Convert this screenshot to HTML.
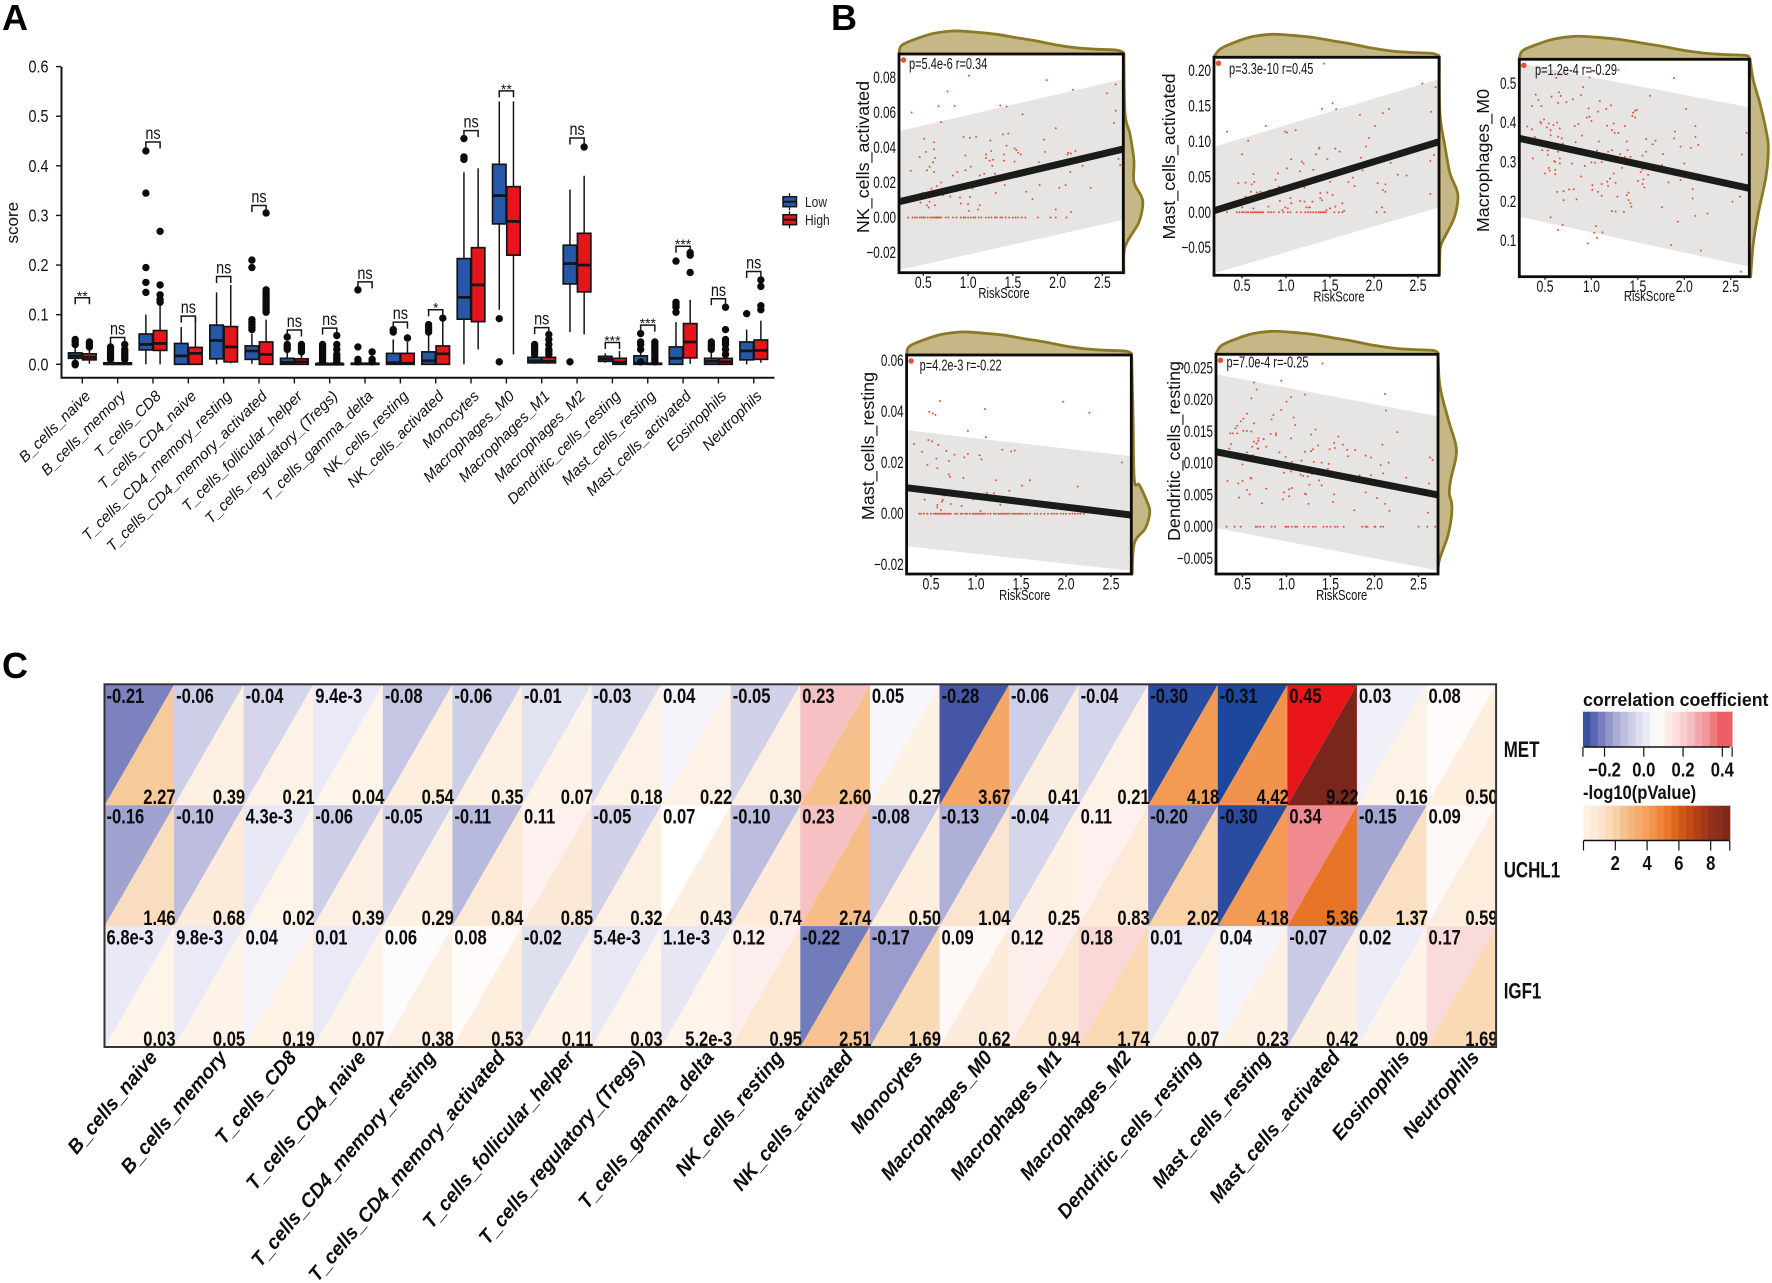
<!DOCTYPE html>
<html lang="en">
<head>
<meta charset="utf-8">
<title>Immune cell infiltration figure</title>
<style>
html,body{margin:0;padding:0;background:#fff;}
svg{display:block;font-family:"Liberation Sans",Arial,sans-serif;filter:blur(0.35px);}
</style>
</head>
<body>
<svg id="fig" xmlns="http://www.w3.org/2000/svg" width="1772" height="1283" viewBox="0 0 1772 1283"></svg>
<script>
/* ---------- shared categories ---------- */
const categories = ["B_cells_naive","B_cells_memory","T_cells_CD8","T_cells_CD4_naive","T_cells_CD4_memory_resting","T_cells_CD4_memory_activated","T_cells_follicular_helper","T_cells_regulatory_(Tregs)","T_cells_gamma_delta","NK_cells_resting","NK_cells_activated","Monocytes","Macrophages_M0","Macrophages_M1","Macrophages_M2","Dendritic_cells_resting","Mast_cells_resting","Mast_cells_activated","Eosinophils","Neutrophils"];

/* ---------- panel A data ---------- */
const scoreTicks = [0,0.1,0.2,0.3,0.4,0.5,0.6];
const lowQ1  = [.012,0,.029,0,.011,.010,0,0,0,0,0,.091,.283,.003,.162,.006,0,0,0,.009];
const lowMed = [.017,.001,.040,.017,.048,.027,.004,.001,.001,.003,.007,.135,.340,.007,.203,.011,.002,.012,.006,.027];
const lowQ3  = [.023,.003,.061,.042,.079,.037,.012,.001,.002,.022,.025,.213,.403,.014,.240,.016,.017,.035,.012,.045];
const lowMin = [.006,0,0,0,0,.001,0,0,0,0,0,0,.110,.001,.065,.003,0,0,0,0];
const lowMax = [.034,.008,.100,.075,.145,.062,.030,.003,.005,.050,.060,.387,.530,.025,.352,.022,.040,.085,.028,.070];
const highQ1 = [.009,0,.028,0,.005,0,0,0,0,0,0,.086,.220,.003,.146,0,0,.013,0,.010];
const highMed= [.014,.001,.042,.022,.035,.020,.005,.001,.001,.002,.021,.160,.288,.006,.200,.004,.001,.045,.005,.028];
const highQ3 = [.021,.003,.068,.034,.076,.045,.011,.001,.002,.022,.037,.235,.358,.014,.264,.012,.002,.082,.012,.049];
const highMin= [.001,0,0,0,.002,0,0,0,0,0,0,.030,.020,.001,.060,0,0,.001,0,.003];
const highMax= [.034,.008,.120,.095,.160,.090,.025,.003,.005,.045,.090,.395,.530,.025,.380,.027,.005,.130,.028,.088];
const lowOutliers = [
 [-.001,.002,.04,.045,.05],[.01,.015,.02,.025,.03,.035],[.145,.165,.195,.345,.43],[],[],
 [.07,.075,.08,.085,.09,.195,.21],[.03,.035,.04,.055],[.005,.01,.015,.02,.025,.03,.035,.04],[.005,.01,.035,.15],[.065,.07],
 [.065,.07,.075,.08],[.413,.418,.455],[.005,.092],[.02,.025,.03,.035,.04],[.005],
 [],[.005,.03,.04,.045,.062],[.105,.115,.12,.125,.208],[.03,.035,.04,.045],[.102]];
const highOutliers = [
 [.035,.04,.045],[.01,.015,.02,.025,.03,.04],[.125,.13,.14,.16,.268],[],[],
 [.105,.11,.115,.12,.125,.13,.135,.14,.145,.15,.305],[.025,.03,.035,.04],[.005,.01,.015,.02,.03,.04,.058],[.005,.01,.025],[.053],
 [.093],[],[],[.02,.025,.03,.04,.05,.06],[.438],
 [],[.005,.01,.015,.02,.025,.03,.035,.04,.045],[.185,.22,.225],[.02,.03,.04,.045,.05,.07,.115],[.11,.118,.157,.17]];
const bracketTop = [.134,.054,.448,.097,.177,.32,.069,.073,.166,.085,.11,.471,.551,.074,.456,.044,.079,.238,.132,.187];
const sigLabels = ["**","ns","ns","ns","ns","ns","ns","ns","ns","ns","*","ns","**","ns","ns","***","***","***","ns","ns"];

/* ---------- panel B data ---------- */
const riskTicks = [0.5,1.0,1.5,2.0,2.5];
const topDensityRisk = [.24,.26,.43,.61,.83,1.05,1.31,1.54,1.76,1.99,2.21,2.43,2.66,2.72];
const topDensityValue = [.03,.38,.67,.89,1,.96,.86,.71,.57,.39,.27,.21,.17,.07];

const nkPoints = [[1.01,.081],[1.88,.0785],[.77,.072],[.37,.06],[.67,.0636],[.85,.0638],[.7,.0545],[1.36,.064],[1.43,.0634],[2.17,.073],[2.55,.071],[2.65,.076],[2.65,.061],[2.63,.054],[1.61,.059],[.51,.045],[.62,.043],[.95,.046],[1.02,.0455],[1.09,.046],[1.39,.0475],[1.45,.048],[1.98,.051],[1.85,.0445],[1.25,.044],[1.43,.041],[.62,.039],[.53,.0375],[.46,.0345],[.63,.034],[.36,.0267],[.54,.027],[.57,.029],[.61,.0316],[.62,.026],[.97,.0354],[1.03,.029],[.97,.027],[.88,.026],[.83,.024],[1.2,.036],[1.26,.038],[1.2,.034],[1.24,.0324],[1.28,.033],[1.27,.0295],[1.4,.036],[1.4,.0324],[1.52,.0394],[1.54,.0385],[1.56,.037],[1.59,.036],[1.52,.032],[1.79,.0316],[1.86,.0375],[1.92,.031],[2.11,.036],[2.12,.037],[2.15,.0366],[2.2,.038],[2.28,.0295],[2.14,.026],[2.68,.0335],[2.7,.03],[1.13,.024],[1.18,.025],[1.3,.025],[.7,.02],[.65,.018],[.59,.0166],[.49,.014],[.47,.0085],[.57,.009],[.54,.007],[.56,.0057],[.63,.007],[.72,.0128],[.8,.012],[.91,.0114],[.92,.008],[1.0,.0076],[1.01,.0038],[1.13,.007],[1.11,.0046],[1.05,.0166],[1.02,.0118],[1.41,.0185],[1.31,.014],[1.65,.0147],[1.72,.0105],[1.8,.0185],[2.02,.017],[2.09,.0185],[2.37,.017],[1.98,.0046],[2.15,.0032],[2.73,.0594],[1.95,.0935]];
const nkZeros = [.23,.33,.38,.41,.43,.46,.48,.5,.52,.55,.58,.6,.62,.64,.65,.66,.67,.68,.7,.75,.78,.83,.87,.92,.95,.97,1.0,1.03,1.06,1.08,1.12,1.15,1.2,1.23,1.26,1.3,1.32,1.36,1.38,1.42,1.46,1.5,1.53,1.56,1.6,1.64,1.78,1.92,1.98,2.1];
const nkRightY = [.0937,.0594,.048,.0328,.0204,.0118,.0061,-.0034,-.0168,-.0316];
const nkRightD = [.03,.09,.34,.55,.55,.95,1,.78,.09,.03];
const nkFit = [.009,.0391];
const nkUpper = [.0494,.0791];
const nkLower = [-.03,-.0014];
const nkYTicks = [-.02,0,.02,.04,.06,.08];

const mastActPoints = [[.33,.114],[.57,.101],[.5,.082],[.77,.122],[.99,.114],[1.01,.1125],[1.11,.116],[1.41,.146],[1.43,.21],[1.375,.09],[1.34,.082],[.46,.041],[.54,.042],[.64,.043],[.61,.0395],[.63,.054],[.6,.029],[.54,.022],[.61,.02],[.67,.028],[.71,.029],[.81,.031],[.88,.046],[.91,.055],[1.01,.062],[1.06,.075],[1.18,.0716],[1.2,.069],[1.16,.058],[1.31,.06],[1.21,.035],[.92,.036],[.93,.016],[.99,.007],[1.05,.02],[1.06,.0127],[1.16,.016],[1.21,.015],[1.26,.007],[.96,.003],[1.02,.0056],[1.39,.027],[1.41,.017],[1.5,.0056],[.8,.008],[.5,.007],[.63,.0056],[2.55,.182],[2.7,.1766],[1.53,.154],[1.57,.1455],[1.84,.1375],[2.1,.14],[2.17,.146],[2.01,.122],[1.94,.105],[1.91,.093],[1.38,.0913],[1.56,.09],[1.61,.0857],[1.47,.075],[1.85,.077],[1.87,.059],[2.19,.07],[2.68,.081],[2.64,.0725],[2.65,.142],[2.73,.1375],[2.27,.053],[2.37,.052],[1.71,.043],[1.76,.049],[1.78,.037],[1.5,.043],[2.04,.041],[2.13,.0395],[2.1,.0315],[2.13,.029],[2.64,.026],[1.47,.028],[1.53,.0245],[1.3,.015],[1.39,.02],[1.64,.0127],[1.56,.008],[1.46,.003],[1.66,.002],[2.09,.007],[1.23,.007],[1.27,.007],[1.57,.219],[1.91,.22]];
const mastActZeros = [.19,.33,.44,.47,.5,.52,.55,.57,.6,.62,.64,.66,.68,.7,.72,.74,.8,.83,.86,.92,.97,1.02,1.05,1.12,1.17,1.22,1.25,1.28,1.31,1.34,1.37,1.39,1.41,1.43,1.45,1.55,1.6,1.64,2.03,2.12];
const mastActRightY = [.219,.1398,.0927,.055,.0315,.0149,-.0107,-.0437,-.0579,-.0889];
const mastActRightD = [.02,.05,.32,.59,.95,1,.77,.14,.05,.02];
const mastActFit = [.0023,.0997];
const mastActUpper = [.0927,.1883];
const mastActLower = [-.0862,.0071];
const mastActYTicks = [-.05,0,.05,.1,.15,.2];

const m0Points = [[.62,.514],[.91,.49],[.98,.515],[1.0,.532],[1.29,.534],[1.89,.513],[.4,.471],[.43,.457],[.36,.442],[.46,.442],[.57,.466],[.65,.477],[.67,.468],[.64,.45],[.73,.452],[.8,.459],[.89,.47],[1.09,.455],[1.21,.444],[.97,.436],[.95,.413],[.98,.415],[1.0,.404],[1.07,.428],[1.16,.435],[1.63,.468],[2.02,.435],[1.45,.425],[1.47,.43],[1.49,.432],[1.44,.417],[1.47,.413],[.45,.402],[.46,.398],[.49,.408],[.54,.398],[.59,.394],[.63,.4],[.31,.39],[.36,.383],[.52,.388],[.56,.381],[.66,.385],[.82,.391],[.86,.396],[1.17,.392],[1.24,.398],[1.22,.381],[1.25,.374],[1.29,.374],[1.36,.391],[1.9,.377],[2.12,.391],[1.89,.36],[2.12,.364],[2.15,.343],[2.07,.336],[1.96,.339],[2.67,.374],[.39,.363],[.56,.368],[.64,.364],[.68,.36],[.9,.367],[.69,.347],[.83,.35],[1.08,.352],[1.59,.358],[1.66,.345],[1.69,.354],[1.38,.352],[1.39,.33],[.47,.33],[.53,.329],[.64,.326],[1.06,.329],[1.18,.326],[1.22,.33],[1.31,.32],[1.59,.326],[1.55,.316],[1.77,.32],[.37,.309],[.53,.318],[.66,.309],[.6,.302],[.61,.3],[.66,.296],[.79,.296],[.93,.29],[1.0,.299],[1.04,.298],[1.11,.3],[1.36,.313],[1.42,.313],[1.76,.292],[2.0,.296],[2.62,.319],[.54,.285],[.55,.278],[.5,.271],[.61,.28],[.61,.269],[.89,.263],[1.24,.271],[1.33,.285],[1.55,.281],[1.53,.274],[1.61,.267],[1.56,.256],[1.5,.252],[1.55,.244],[1.57,.235],[1.83,.248],[1.96,.254],[1.2,.258],[1.17,.25],[1.26,.247],[1.01,.241],[1.11,.244],[1.18,.239],[1.01,.229],[2.09,.231],[.63,.224],[.7,.226],[.76,.23],[.81,.231],[1.07,.224],[1.11,.214],[1.4,.222],[1.38,.216],[1.28,.212],[2.09,.207],[.7,.203],[.84,.205],[1.4,.203],[1.42,.195],[1.43,.186],[1.76,.185],[2.52,.199],[2.6,.212],[1.22,.175],[1.26,.174],[1.35,.173],[2.25,.169],[2.12,.163],[.56,.159],[1.93,.148],[.69,.14],[.64,.127],[1.05,.137],[1.03,.12],[1.12,.121],[1.06,.107],[.96,.093],[1.86,.089],[2.18,.075],[2.7,.102],[2.61,.021],[.72,.008],[.23,.29]];
const m0Zeros = [];
const m0RightY = [.561,.508,.449,.373,.331,.263,.169,.093,.0084];
const m0RightD = [.04,.21,.56,.91,1,.88,.47,.21,.07];
const m0Fit = [.36,.233];
const m0Upper = [.5507,.4389];
const m0Lower = [.1609,.0338];
const m0YTicks = [.1,.2,.3,.4,.5];

const mastRestPoints = [[.6,.0442],[.48,.04],[.52,.0393],[.55,.0387],[1.1,.041],[1.97,.0439],[2.26,.0396],[.91,.0325],[1.11,.03],[.31,.0273],[.47,.0289],[.51,.0284],[.58,.027],[.4,.0243],[.67,.0246],[1.29,.0251],[1.39,.0244],[1.43,.0248],[.76,.0231],[.91,.0234],[1.04,.0229],[.87,.0221],[1.06,.0213],[.56,.0216],[.7,.0207],[.46,.0192],[.57,.0178],[2.62,.0201],[.7,.0154],[.71,.0145],[.86,.014],[1.22,.0131],[1.6,.0131],[1.51,.011],[1.37,.009],[2.13,.0106],[1.12,.0081],[1.2,.008],[.65,.0071],[.97,.0056],[.43,.0055],[.63,.0054],[.62,.0047],[.72,.0038],[.57,.0034],[.57,.0025],[.84,.003],[1.27,.0035],[.61,.0014],[1.05,.001],[.23,.0071],[.82,.0622]];
const mastRestZeros = [.37,.39,.42,.46,.5,.53,.55,.57,.59,.6,.62,.64,.65,.67,.69,.7,.72,.77,.79,.83,.85,.88,.9,.93,.96,.98,1.0,1.02,1.04,1.06,1.08,1.1,1.13,1.16,1.2,1.22,1.25,1.27,1.29,1.31,1.33,1.35,1.37,1.4,1.42,1.44,1.46,1.48,1.5,1.52,1.55,1.57,1.6,1.65,1.68,1.72,1.76,1.8,1.84,1.87,1.9,1.94,1.97,2.0,2.04,2.07,2.1,2.13,2.16,2.2];
const mastRestRightY = [.062,.0367,.0133,.0113,.0054,.0008,-.0057,-.0116,-.0236];
const mastRestRightD = [.02,.1,.16,.43,.81,1,.76,.16,.05];
const mastRestFit = [.0102,-.0005];
const mastRestUpper = [.0328,.0226];
const mastRestLower = [-.0127,-.0224];
const mastRestYTicks = [-.02,0,.02,.04,.06];

const dcPoints = [[1.41,.0257],[.94,.023],[.63,.0227],[.66,.0216],[.6,.0202],[2.12,.0209],[1.21,.0208],[1.05,.0204],[1.0,.0197],[2.13,.0183],[.94,.0184],[.85,.0176],[.55,.0178],[.51,.017],[.48,.0166],[1.08,.0172],[.83,.0169],[1.1,.016],[.44,.0159],[.63,.0163],[2.26,.0149],[.42,.0155],[.55,.0151],[.6,.015],[.51,.0151],[.19,.015],[.36,.0147],[.39,.0147],[.44,.0147],[1.33,.0153],[.82,.0146],[.88,.0147],[.88,.0144],[1.28,.0145],[1.59,.0142],[.68,.0139],[1.05,.0139],[.74,.0138],[.63,.0134],[.66,.0131],[.37,.013],[.68,.0135],[1.54,.0132],[1.64,.0129],[2.09,.0129],[1.36,.0128],[.61,.0126],[.68,.0123],[.77,.0126],[.67,.0123],[1.3,.0122],[1.49,.0122],[1.69,.0121],[1.78,.0121],[1.55,.0124],[1.21,.0118],[1.28,.0119],[.92,.0117],[.55,.0117],[.35,.0123],[.62,.0113],[1.7,.0111],[1.9,.0112],[1.96,.0109],[.99,.011],[2.63,.0109],[2.66,.0105],[1.17,.0104],[1.31,.0102],[1.4,.0101],[1.06,.0102],[2.16,.0101],[.5,.0098],[1.48,.0099],[2.07,.0097],[1.47,.0091],[1.33,.0092],[.97,.0085],[1.05,.0087],[1.16,.0082],[1.19,.008],[1.24,.0079],[1.29,.0083],[1.83,.0081],[1.96,.0081],[2.1,.0084],[2.36,.0077],[.59,.0077],[.6,.0076],[.33,.0072],[.5,.0072],[1.37,.0073],[.45,.0068],[1.26,.0066],[1.4,.0065],[2.62,.0068],[.77,.006],[1.03,.0059],[1.06,.0061],[1.9,.0054],[.55,.0058],[.97,.0054],[1.21,.0052],[1.22,.0051],[1.54,.0051],[.58,.0051],[.46,.0046],[1.03,.0048],[.96,.0043],[2.03,.0045],[1.53,.0039],[.72,.0037],[1.25,.0036],[2.12,.0036],[1.77,.0026],[2.17,.0025],[2.61,.0022],[1.93,.0272]];
const dcZeros = [.32,.41,.48,.65,.67,.7,.74,.83,.87,.99,1.0,1.02,1.06,1.1,1.12,1.2,1.25,1.3,1.33,1.42,1.46,1.5,1.55,1.58,1.65,1.86,1.9,1.92,2.0,2.01,2.07,2.1,2.5,2.6,2.69];
const dcRightY = [.0271,.0221,.0168,.0131,.011,.0073,.0052,.0031,-.0011,-.0053,-.0075];
const dcRightD = [0,.11,.58,.97,1,.7,.63,.78,.58,.07,0];
const dcFit = [.0118,.005];
const dcUpper = [.024,.0174];
const dcLower = [-.0002,-.0069];
const dcYTicks = [-.005,0,.005,.01,.015,.02,.025];

/* ---------- panel C data ---------- */
const geneNames = ["MET","UCHL1","IGF1"];
const corrMET   = [-.21,-.06,-.04,9.4e-3,-.08,-.06,-.01,-.03,.04,-.05,.23,.05,-.28,-.06,-.04,-.30,-.31,.45,.03,.08];
const corrUCHL1 = [-.16,-.10,4.3e-3,-.06,-.05,-.11,.11,-.05,.07,-.10,.23,-.08,-.13,-.04,.11,-.20,-.30,.34,-.15,.09];
const corrIGF1  = [6.8e-3,9.8e-3,.04,.01,.06,.08,-.02,5.4e-3,1.1e-3,.12,-.22,-.17,.09,.12,.18,.01,.04,-.07,.02,.17];
const logpMET   = [2.27,.39,.21,.04,.54,.35,.07,.18,.22,.30,2.60,.27,3.67,.41,.21,4.18,4.42,9.22,.16,.50];
const logpUCHL1 = [1.46,.68,.02,.39,.29,.84,.85,.32,.43,.74,2.74,.50,1.04,.25,.83,2.02,4.18,5.36,1.37,.59];
const logpIGF1  = [.03,.05,.19,.07,.38,.53,.11,.03,5.2e-3,.95,2.51,1.69,.62,.94,1.74,.07,.23,.42,.09,1.69];
const corrLegendTicks = [-.2,0,.2,.4];
const logpLegendTicks = [2,4,6,8];

/* ---------- helpers ---------- */
const NS = "http://www.w3.org/2000/svg";
const svg = document.getElementById("fig");
function add(parent, tag, attrs, name){
  const el = document.createElementNS(NS, tag);
  for(const k in attrs){ el.setAttribute(k, attrs[k]); }
  
  
  parent.appendChild(el);
  return el;
}
function group(parent, name){ return add(parent, "g", {}, name); }
function label(parent, x, y, str, o, name){
  o = o || {};
  const tr = "translate(" + x + " " + y + ")" + (o.rot ? " rotate(" + o.rot + ")" : "") + (o.sx ? " scale(" + o.sx + " 1)" : "");
  const a = {transform: tr, "font-size": o.size || 14, fill: o.fill || "#111"};
  if(o.weight) a["font-weight"] = o.weight;
  if(o.italic) a["font-style"] = "italic";
  if(o.anchor) a["text-anchor"] = o.anchor;
  const t = add(parent, "text", a, name);
  t.textContent = str;
  return t;
}
function smooth(pts){
  let d = "M" + pts[0][0].toFixed(1) + " " + pts[0][1].toFixed(1);
  for(let i = 0; i < pts.length - 1; i++){
    const p0 = pts[Math.max(i-1,0)], p1 = pts[i], p2 = pts[i+1], p3 = pts[Math.min(i+2,pts.length-1)];
    const c1x = p1[0] + (p2[0]-p0[0])/6, c1y = p1[1] + (p2[1]-p0[1])/6;
    const c2x = p2[0] - (p3[0]-p1[0])/6, c2y = p2[1] - (p3[1]-p1[1])/6;
    d += "C" + c1x.toFixed(1) + " " + c1y.toFixed(1) + " " + c2x.toFixed(1) + " " + c2y.toFixed(1) + " " + p2[0].toFixed(1) + " " + p2[1].toFixed(1);
  }
  return d;
}
function panelLetter(x, y, s){
  label(svg, x, y, s, {size:36, weight:"bold", fill:"#000"}, "panel-label-" + s.toLowerCase());
}
panelLetter(2, 30, "A");
panelLetter(831, 30, "B");
panelLetter(2, 678, "C");

/* ---------- panel A ---------- */
(function(){
  const g = group(svg, "boxplot-panel");
  const LOW = "#2559a8", HIGH = "#e8141c", INK = "#151515";
  const y = v => 364.3 - v * 496.2;
  const x = i => 82.3 + i * 35.34;
  const OFF = 7.1, W = 13.4;

  const axes = group(g, "boxplot-axes");
  add(axes, "line", {x1:61.5, y1:y(0.6), x2:61.5, y2:378.5, stroke:INK, "stroke-width":2}, "y-axis-line");
  add(axes, "line", {x1:60.5, y1:377.7, x2:774.5, y2:377.7, stroke:INK, "stroke-width":2}, "x-axis-line");
  scoreTicks.forEach(v => {
    add(axes, "line", {x1:56, y1:y(v), x2:61, y2:y(v), stroke:INK, "stroke-width":1.4}, "y-tick");
    label(axes, 48.5, y(v) + 6, v.toFixed(1), {size:17.5, anchor:"end", sx:.82}, "y-tick-label");
  });
  label(axes, 18, 222.7, "score", {size:17, anchor:"middle", rot:-90}, "y-axis-title");

  function drawBox(parent, cx, q1, med, q3, lo, hi, outs, color, name){
    const b = group(parent, name);
    add(b, "line", {x1:cx, x2:cx, y1:y(lo), y2:y(hi), stroke:INK, "stroke-width":1.5}, "whisker");
    add(b, "rect", {x:cx-W/2, y:y(q3), width:W, height:Math.max(y(q1)-y(q3),1), fill:color, stroke:INK, "stroke-width":1.7}, "box");
    add(b, "line", {x1:cx-W/2, x2:cx+W/2, y1:y(med), y2:y(med), stroke:INK, "stroke-width":2.8}, "median");
    outs.forEach(v => {
      add(b, "circle", {cx:cx, cy:y(v), r:3.7, fill:"#0b0b0b"}, "outlier");
    });
  }
  categories.forEach((c, i) => {
    const cg = group(g, "category-" + c.toLowerCase().replace(/[^a-z0-9]+/g, "-"));
    const t = x(i);
    drawBox(cg, t-OFF, lowQ1[i], lowMed[i], lowQ3[i], lowMin[i], lowMax[i], lowOutliers[i], LOW, "box-low");
    drawBox(cg, t+OFF, highQ1[i], highMed[i], highQ3[i], highMin[i], highMax[i], highOutliers[i], HIGH, "box-high");
    const by = y(bracketTop[i]);
    add(cg, "path", {d:"M" + (t-OFF) + " " + (by+6.5) + "V" + by + "H" + (t+OFF) + "V" + (by+6.5), fill:"none", stroke:INK, "stroke-width":1.5}, "significance-bracket");
    if(sigLabels[i] === "ns"){
      label(cg, t, by-3, "ns", {size:18, anchor:"middle", sx:.8}, "significance-label");
    } else {
      label(cg, t, by+3, sigLabels[i], {size:14, anchor:"middle"}, "significance-label");
    }
    add(cg, "line", {x1:t, x2:t, y1:378.5, y2:383.5, stroke:INK, "stroke-width":1.4}, "x-tick");
    label(cg, t+9, 397, c, {size:15.2, italic:true, anchor:"end", rot:-45}, "x-tick-label");
  });

  const leg = group(g, "boxplot-legend");
  [["Low", LOW, 201.7], ["High", HIGH, 219.7]].forEach(e => {
    const item = group(leg, "legend-entry-" + e[0].toLowerCase());
    add(item, "line", {x1:789.5, x2:789.5, y1:e[2]-8.5, y2:e[2]+8.5, stroke:INK, "stroke-width":1.3}, "legend-whisker");
    add(item, "rect", {x:783, y:e[2]-5, width:13.5, height:10, fill:e[1], stroke:INK, "stroke-width":1.5}, "legend-swatch");
    add(item, "line", {x1:783, x2:796.5, y1:e[2], y2:e[2], stroke:INK, "stroke-width":2}, "legend-median");
    label(item, 805, e[2]+5.5, e[0], {size:15, sx:.8, fill:"#222"}, "legend-label");
  });
})();

/* ---------- panel B ---------- */
function scatterPanel(o){
  const g = group(svg, o.name);
  const x = v => o.x05 + (v - .5) * o.xUnit;
  const y = v => o.y0 - v * o.yUnit;
  const L = o.left, R = o.right, T = o.top, B = o.bottom;
  const TAN = "#c5b886", OLIVE = "#8a7a25";

  const topPts = topDensityRisk.map((r, i) => [x(r), T - 23 * topDensityValue[i]]);
  topPts[0][0] = L; topPts[topPts.length-1][0] = R;
  add(g, "path", {d:smooth(topPts) + "L" + R + " " + T + "L" + L + " " + T + "Z", fill:TAN, stroke:OLIVE, "stroke-width":2.8, "stroke-linejoin":"round"}, "top-density");
  const rightPts = o.rightY.map((v, i) => [R + o.rightMax * o.rightD[i], y(v)]);
  rightPts[0][1] = Math.max(rightPts[0][1], T);
  rightPts[rightPts.length-1][1] = Math.min(rightPts[rightPts.length-1][1], B);
  add(g, "path", {d:smooth(rightPts) + "L" + R + " " + B + "L" + R + " " + T + "Z", fill:TAN, stroke:OLIVE, "stroke-width":2.8, "stroke-linejoin":"round"}, "right-density");

  add(g, "rect", {x:L, y:T, width:R-L, height:B-T, fill:"#fff"}, "plot-background");
  const domL = o.domain[0], domR = o.domain[1];
  add(g, "polygon", {points:[[x(domL),y(o.upper[0])],[x(domR),y(o.upper[1])],[x(domR),y(o.lower[1])],[x(domL),y(o.lower[0])]].map(p=>p[0].toFixed(1)+","+p[1].toFixed(1)).join(" "), fill:"#e6e5e3"}, "confidence-band");
  const pg = group(g, "scatter-points");
  o.points.forEach(p => {
    add(pg, "circle", {cx:x(p[0]), cy:y(p[1]), r:1, fill:"#e2553a"}, "scatter-point");
  });
  o.zeros.forEach(v => {
    add(pg, "circle", {cx:x(v), cy:y(0), r:1, fill:"#e2553a"}, "scatter-point-zero");
  });
  add(g, "line", {x1:x(domL), y1:y(o.fit[0]), x2:x(domR), y2:y(o.fit[1]), stroke:"#1a1c1a", "stroke-width":7}, "regression-line");
  add(g, "rect", {x:L, y:T, width:R-L, height:B-T, fill:"none", stroke:"#0c0c0c", "stroke-width":2.8}, "plot-frame");
  add(g, "circle", {cx:L+4.5, cy:T+6, r:2.8, fill:"#e2553a"}, "corner-marker");

  riskTicks.forEach(v => {
    add(g, "line", {x1:x(v), x2:x(v), y1:B, y2:B+3, stroke:"#111", "stroke-width":1.3}, "x-tick");
    label(g, x(v), B+15.5, v.toFixed(1), {size:16.5, anchor:"middle", sx:.74}, "x-tick-label");
  });
  o.yTicks.forEach(v => {
    label(g, L-3, y(v)+5.5, v.toFixed(o.dec).replace("-", "\u2212"), {size:16.5, anchor:"end", sx:.71}, "y-tick-label");
  });
  label(g, o.yLabelX, o.yLabelY, o.yLabel, {size:17.9, anchor:"middle", rot:-90}, "y-axis-title");
  label(g, o.riskX, o.riskY, "RiskScore", {size:15, anchor:"middle", sx:.75}, "x-axis-title");
  label(g, o.statX, o.statY, o.stat, {size:15.5, sx:.71}, "correlation-annotation");
}

scatterPanel({name:"scatter-nk-cells-activated", left:899, right:1123.3, top:54, bottom:272.7, x05:923.3, xUnit:89.5, y0:217.5, yUnit:1750, domain:[.228,2.734], points:nkPoints, zeros:nkZeros, rightY:nkRightY, rightD:nkRightD, rightMax:19.3, fit:nkFit, upper:nkUpper, lower:nkLower, yTicks:nkYTicks, dec:2, yLabel:"NK_cells_activated", yLabelX:869, yLabelY:157, riskX:1004, riskY:298, stat:"p=5.4e-6 r=0.34", statX:909, statY:69});
scatterPanel({name:"scatter-mast-cells-activated", left:1214, right:1439, top:57.3, bottom:275.3, x05:1242, xUnit:88, y0:212.3, yUnit:708, domain:[.182,2.74], points:mastActPoints, zeros:mastActZeros, rightY:mastActRightY, rightD:mastActRightD, rightMax:18.7, fit:mastActFit, upper:mastActUpper, lower:mastActLower, yTicks:mastActYTicks, dec:2, yLabel:"Mast_cells_activated", yLabelX:1175, yLabelY:156.5, riskX:1339, riskY:301.7, stat:"p=3.3e-10 r=0.45", statX:1229, statY:74});
scatterPanel({name:"scatter-macrophages-m0", left:1519.3, right:1749.3, top:59.3, bottom:276.7, x05:1545, xUnit:92.85, y0:280, yUnit:393.5, domain:[.223,2.70], points:m0Points, zeros:m0Zeros, rightY:m0RightY, rightD:m0RightD, rightMax:19, fit:m0Fit, upper:m0Upper, lower:m0Lower, yTicks:m0YTicks, dec:1, yLabel:"Macrophages_M0", yLabelX:1489, yLabelY:160.5, riskX:1649.5, riskY:301, stat:"p=1.2e-4 r=-0.29", statX:1535, statY:75});
scatterPanel({name:"scatter-mast-cells-resting", left:906.6, right:1131.3, top:355, bottom:574, x05:931, xUnit:90, y0:513.7, yUnit:2550, domain:[.225,2.72], points:mastRestPoints, zeros:mastRestZeros, rightY:mastRestRightY, rightD:mastRestRightD, rightMax:18.5, fit:mastRestFit, upper:mastRestUpper, lower:mastRestLower, yTicks:mastRestYTicks, dec:2, yLabel:"Mast_cells_resting", yLabelX:874, yLabelY:446, riskX:1024.7, riskY:600, stat:"p=4.2e-3 r=-0.22", statX:919.6, statY:370.7});
scatterPanel({name:"scatter-dendritic-cells-resting", left:1216, right:1438, top:354.3, bottom:574, x05:1242.5, xUnit:88, y0:526.7, yUnit:6350, domain:[.2,2.72], points:dcPoints, zeros:dcZeros, rightY:dcRightY, rightD:dcRightD, rightMax:18, fit:dcFit, upper:dcUpper, lower:dcLower, yTicks:dcYTicks, dec:3, yLabel:"Dendritic_cells_resting", yLabelX:1180, yLabelY:451, riskX:1341.7, riskY:600, stat:"p=7.0e-4 r=-0.25", statX:1226.5, statY:367.3});

/* ---------- panel C ---------- */
(function(){
  const g = group(svg, "correlation-heatmap");
  const corrStops = [[-.31,"#1b479d"],[-.28,"#4456a5"],[-.21,"#7b82bf"],[-.16,"#a0a3d0"],[-.10,"#bcbddf"],[-.06,"#cdcee8"],[-.01,"#e2e3f1"],[.01,"#e9eaf5"],[.04,"#f4f4fa"],[.07,"#ffffff"],[.11,"#fdf0ef"],[.18,"#fad8d8"],[.23,"#f6c1c3"],[.34,"#f08a8f"],[.45,"#ea151b"]];
  const logpStops = [[0,"#fef4ea"],[.5,"#fdeede"],[1,"#fce6d2"],[1.5,"#fadcbc"],[2,"#f9d3a9"],[2.5,"#f6c291"],[3.67,"#f5a866"],[4.2,"#f39a54"],[5.36,"#e87428"],[6.5,"#c84e15"],[8,"#94331b"],[9.22,"#7a271b"]];
  function colorAt(stops, v){
    if(v <= stops[0][0]) return stops[0][1];
    for(let i = 1; i < stops.length; i++){
      if(v <= stops[i][0]){
        const t = (v - stops[i-1][0]) / (stops[i][0] - stops[i-1][0]);
        const a = stops[i-1][1], b = stops[i][1];
        let out = "rgb(";
        for(let k = 0; k < 3; k++){
          const ca = parseInt(a.substr(1+k*2,2),16), cb = parseInt(b.substr(1+k*2,2),16);
          out += Math.round(ca + (cb-ca)*t) + (k<2?",":")");
        }
        return out;
      }
    }
    return stops[stops.length-1][1];
  }
  const fmt = v => Math.abs(v) < .01 && v !== 0 ? v.toExponential(1) : v.toFixed(2);
  const corrRows = [corrMET, corrUCHL1, corrIGF1];
  const logpRows = [logpMET, logpUCHL1, logpIGF1];
  const X0 = 104.5, CW = 69.58, Y0 = 684.3, RH = 120.9;
  const cx = i => X0 + i * CW;
  const cy = r => Y0 + r * RH;
  corrRows.forEach((row, r) => {
    const rg = group(g, "heatmap-row-" + geneNames[r].toLowerCase());
    row.forEach((c, i) => {
      const x0 = cx(i), x1 = cx(i+1), y0 = cy(r), y1 = cy(r+1);
      const up = [[x0,y0],[x1+.3,y0],[x0,y1+.3]].map(p=>p[0].toFixed(1)+","+p[1].toFixed(1)).join(" ");
      const lo = [[x1+.3,y0],[x1+.3,y1+.3],[x0,y1+.3]].map(p=>p[0].toFixed(1)+","+p[1].toFixed(1)).join(" ");
      add(rg, "polygon", {points:up, fill:colorAt(corrStops, c)}, "correlation-triangle");
      add(rg, "polygon", {points:lo, fill:colorAt(logpStops, logpRows[r][i])}, "pvalue-triangle");
    });
    row.forEach((c, i) => {
      const x0 = cx(i), x1 = cx(i+1), y0 = cy(r), y1 = cy(r+1);
      label(rg, x0+2, y0+18.5, fmt(c), {size:21, weight:"bold", sx:.79, fill:"#0c0c0c"}, "correlation-value");
      label(rg, x1+1.5, y1-1, fmt(logpRows[r][i]), {size:21, weight:"bold", sx:.79, anchor:"end", fill:"#0c0c0c"}, "pvalue-value");
    });
    label(g, 1503.7, cy(r) + 72.5, geneNames[r], {size:22, weight:"bold", sx:.77}, "row-label");
  });
  add(g, "rect", {x:X0, y:Y0, width:CW*20, height:RH*3, fill:"none", stroke:"#333", "stroke-width":2}, "heatmap-frame");
  categories.forEach((c, i) => {
    label(g, cx(i)+CW/2+19, 1058, c, {size:20, weight:"bold", italic:true, anchor:"end", rot:-50, sx:.96, fill:"#0c0c0c"}, "column-label");
  });

  /* legends */
  const lg = group(g, "heatmap-legends");
  const LX0 = 1583.7, LX1 = 1729.7;
  const corrX = v => 1643.8 + v * 196.3;
  const logpX = v => 1583.5 + v * 15.9;
  label(lg, 1583, 706, "correlation coefficient", {size:18.5, weight:"bold", sx:.96}, "correlation-legend-title");
  const corrBar = group(lg, "correlation-colorbar");
  for(let k = 0; k < 20; k++){
    const a = -.31 + k * .038;
    add(corrBar, "rect", {x:corrX(a), y:711.7, width:corrX(a+.038)-corrX(a)+.4, height:35, fill:colorAt(corrStops, Math.min(a+.019, .38))}, "colorbar-step");
  }
  add(corrBar, "line", {x1:LX0, x2:LX1, y1:747, y2:747, stroke:"#111", "stroke-width":1.6}, "colorbar-axis");
  [-.31].concat(corrLegendTicks, [.45]).forEach(v => {
    add(corrBar, "line", {x1:corrX(v), x2:corrX(v), y1:747, y2:756.7, stroke:"#111", "stroke-width":1.2}, "colorbar-tick");
  });
  corrLegendTicks.forEach(v => {
    label(corrBar, corrX(v), 776.7, v.toFixed(1).replace("-", "\u2212"), {size:20, weight:"bold", anchor:"middle", sx:.83}, "colorbar-tick-label");
  });
  label(lg, 1583, 799, "-log10(pValue)", {size:19.5, weight:"bold", sx:.85}, "pvalue-legend-title");
  const logpBar = group(lg, "pvalue-colorbar");
  for(let k = 0; k < 20; k++){
    const a = k * .4605;
    add(logpBar, "rect", {x:logpX(a), y:805.7, width:logpX(a+.4605)-logpX(a)+.4, height:34.3, fill:colorAt(logpStops, a+.23)}, "colorbar-step");
  }
  add(logpBar, "line", {x1:LX0, x2:LX1, y1:840.5, y2:840.5, stroke:"#111", "stroke-width":1.6}, "colorbar-axis");
  [0].concat(logpLegendTicks, [9.2]).forEach(v => {
    add(logpBar, "line", {x1:logpX(v), x2:logpX(v), y1:840.5, y2:850.5, stroke:"#111", "stroke-width":1.2}, "colorbar-tick");
  });
  logpLegendTicks.forEach(v => {
    label(logpBar, logpX(v), 870, String(v), {size:20, weight:"bold", anchor:"middle", sx:.83}, "colorbar-tick-label");
  });
})();
</script>
</body>
</html>
